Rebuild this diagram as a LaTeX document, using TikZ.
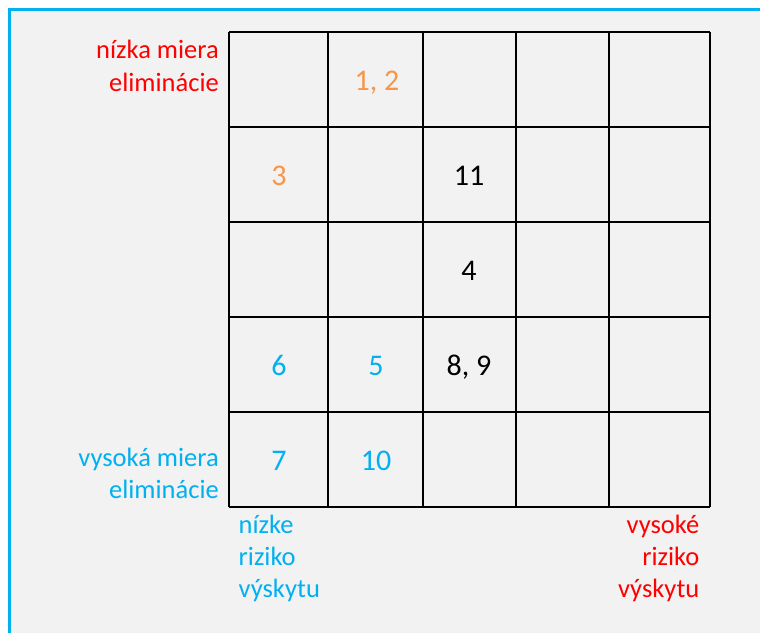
\documentclass[tikz,border=0pt]{standalone}
\usepackage{fontspec}
\setmainfont{Carlito}
\definecolor{bgray}{HTML}{F2F2F2}
\definecolor{fblue}{HTML}{00B0F0}
\definecolor{fred}{HTML}{FF0000}
\definecolor{forange}{HTML}{F79646}
\tikzset{
  num/.style={inner sep=0pt, font=\fontsize{30}{36}\selectfont, anchor=base},
  lblr/.style={inner sep=0pt, font=\fontsize{26.5}{32}\selectfont, anchor=base east},
  lbll/.style={inner sep=0pt, font=\fontsize{26.5}{32}\selectfont, anchor=base west},
  gridline/.style={line width=2pt, black}
}
\begin{document}
\begin{tikzpicture}[x=1pt,y=-1pt]
\useasboundingbox (0,0) rectangle (760,632);
\fill[white] (0,0) rectangle (760,632);
\fill[bgray] (9.5,9.5) rectangle (762,640);
\draw[fblue, line width=3pt] (9.5,640) -- (9.5,9.5) -- (762,9.5);
% grid
\foreach \x in {229,328,423,516,609,710} \draw[gridline] (\x,32) -- (\x,507);
\foreach \y in {32,127,222,317,412,507} \draw[gridline] (229,\y) -- (710,\y);
% numbers
\node[num, text=forange] (n12) at (377,90) {1, 2};
\node[num, text=forange] (n3) at (279,185) {3};
\node[num] (n11) at (469,185) {11};
\node[num] (n4) at (469,280) {4};
\node[num, text=fblue] (n6) at (279,375) {6};
\node[num, text=fblue] (n5) at (376,375) {5};
\node[num] (n89) at (469,375) {8, 9};
\node[num, text=fblue] (n7) at (279,470) {7};
\node[num, text=fblue] (n10) at (376,470) {10};
% labels
\node[lblr, text=fred] (lowelimA) at (219,58.5) {nízka miera};
\node[lblr, text=fred] (lowelimB) at (219,91) {eliminácie};
\node[lblr, text=fblue] (highelimA) at (219,466.5) {vysoká miera};
\node[lblr, text=fblue] (highelimB) at (219,498.5) {eliminácie};
\node[lbll, text=fblue] (lowriskA) at (238.5,533) {nízke};
\node[lbll, text=fblue] (lowriskB) at (238.5,565) {riziko};
\node[lbll, text=fblue] (lowriskC) at (238.5,597) {výskytu};
\node[lblr, text=fred] (highriskA) at (699.5,533) {vysoké};
\node[lblr, text=fred] (highriskB) at (699.5,565) {riziko};
\node[lblr, text=fred] (highriskC) at (699.5,597) {výskytu};
\end{tikzpicture}
\end{document}
